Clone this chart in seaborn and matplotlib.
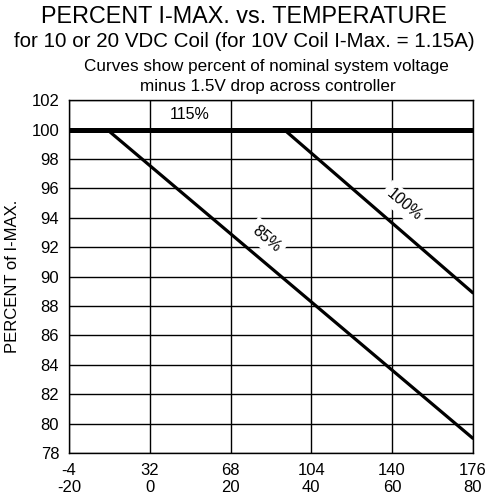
import numpy as np
import pandas as pd
import matplotlib
matplotlib.use("Agg")
import matplotlib.pyplot as plt
import seaborn as sns

# =========================================================
# DATA
# =========================================================

temp_c_ticks = [-20, 0, 20, 40, 60, 80]
temp_f_ticks = [-4, 32, 68, 104, 140, 176]
pct_ticks = list(range(78, 103, 2))

# 115% curve sits on the 100% limit across the whole range
c115_x = [-20, 80]
c115_y = [100, 100]

# 85% system voltage curve
c85_x = [-10.5, 80]
c85_y = [100, 79.0]

# 100% system voltage curve
c100_x = [33.3, 80]
c100_y = [100, 88.9]

# =========================================================
# PLOT
# =========================================================

sns.set_style("white")
plt.rcParams["font.family"] = ["Liberation Sans", "DejaVu Sans"]
plt.rcParams["text.color"] = "black"
plt.rcParams["xtick.color"] = "black"
plt.rcParams["ytick.color"] = "black"
plt.rcParams["axes.labelcolor"] = "black"

fig = plt.figure(figsize=(4.89, 5.01), dpi=100)
ax = fig.add_axes([0.141, 0.0958, 0.826, 0.704])

sns.lineplot(x=c115_x, y=c115_y, ax=ax, color="black", linewidth=3.6)
sns.lineplot(x=c85_x, y=c85_y, ax=ax, color="black", linewidth=2.3)
sns.lineplot(x=c100_x, y=c100_y, ax=ax, color="black", linewidth=2.3)

ax.set_xlim(-20, 80)
ax.set_ylim(78, 102)
ax.set_xticks(temp_c_ticks)
ax.set_xticklabels([f"{f}\n{c}" for f, c in zip(temp_f_ticks, temp_c_ticks)],
                   fontsize=12, linespacing=1.15)
ax.set_yticks(pct_ticks)
ax.set_yticklabels([str(v) for v in pct_ticks], fontsize=12)
ax.tick_params(axis="x", length=3, width=1, color="black", pad=4)
ax.tick_params(axis="y", length=0, pad=7)

ax.grid(True, color="black", linewidth=1.0)
ax.set_axisbelow(True)
for s in ax.spines.values():
    s.set_color("black")
    s.set_linewidth(1.0)

ax.set_ylabel("PERCENT of I-MAX.", fontsize=12, labelpad=8)
ax.set_xlabel("")

# curve labels (white box breaks the grid like the original)
box = dict(facecolor="white", edgecolor="none", pad=3)
ax.text(10, 101.05, "115%", ha="center", va="center", fontsize=11.5)
ax.text(29.0, 92.6, "85%", ha="center", va="center", fontsize=11.5,
        rotation=-40, bbox=box)
ax.text(63.0, 94.9, "100%", ha="center", va="center", fontsize=11.5,
        rotation=-40, bbox=box)

# titles
fig.text(0.5, 0.968, "PERCENT I-MAX. vs. TEMPERATURE", ha="center",
         va="center", fontsize=16.8)
fig.text(0.5, 0.917, "for 10 or 20 VDC Coil (for 10V Coil I-Max. = 1.15A)",
         ha="center", va="center", fontsize=14.8)
fig.text(0.545, 0.868, "Curves show percent of nominal system voltage",
         ha="center", va="center", fontsize=12.3)
fig.text(0.548, 0.827, "minus 1.5V drop across controller",
         ha="center", va="center", fontsize=12.3)

fig.savefig("out.png", dpi=100, facecolor="white")
